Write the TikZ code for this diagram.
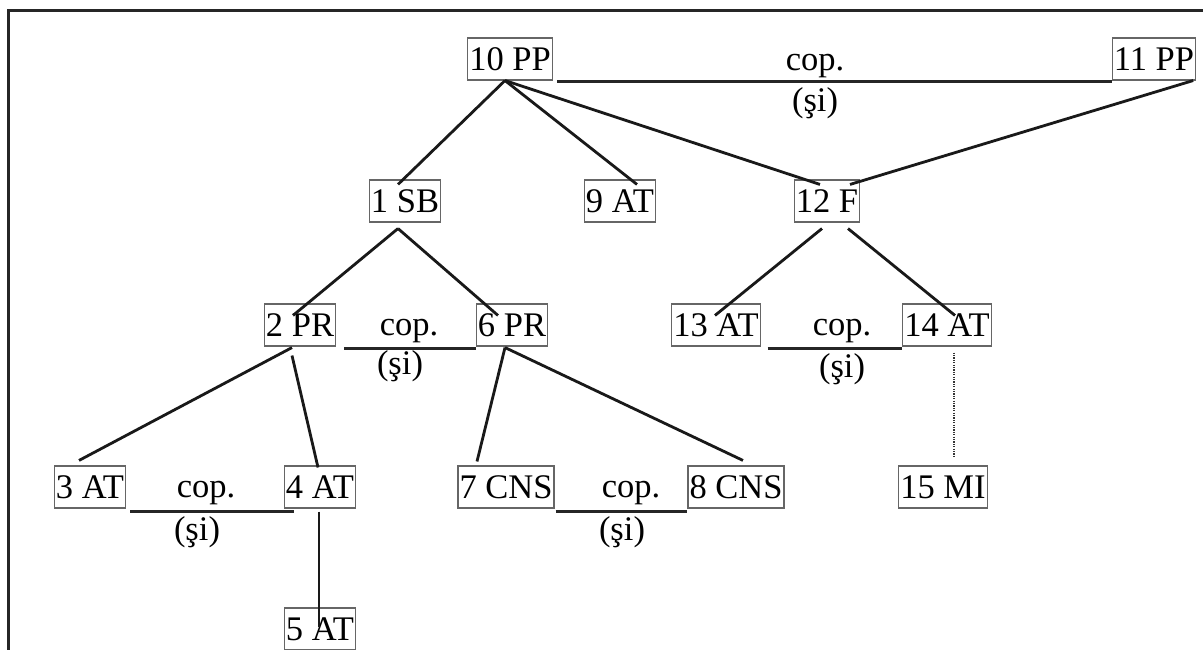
\documentclass[tikz,border=0pt]{standalone}
\usepackage{fontspec}
\setmainfont{Liberation Serif}
\usetikzlibrary{calc}
\tikzset{
  unit/.style={draw=black!60, line width=1.1pt, rectangle, inner xsep=1.5pt, inner ysep=0pt,
    text height=32.5pt, text depth=9.5pt, font=\fontsize{34.5}{40}\selectfont},
  tag/.style={anchor=base, inner sep=0pt, font=\fontsize{34.5}{40}\selectfont},
  link/.style={line width=2.8pt, black!90},
  coord/.style={line width=3pt, black!85},
  dotlink/.style={line width=2.2pt, black!80, dash pattern=on 1.2pt off 1.2pt}
}
\begin{document}
\begin{tikzpicture}[x=1pt,y=-1pt]
\useasboundingbox (0,0) rectangle (1203,650);
% frame
\draw[line width=3pt, black!85] (8,650) -- (8,10.5) -- (1203,10.5);

% units
\node[unit] (n10) at (510,59) {10 PP};
\node[unit] (n11) at (1154,59) {11 PP};
\node[unit] (n1) at (405,201) {1 SB};
\node[unit] (n9) at (620,201) {9 AT};
\node[unit] (n12) at (827,201) {12 F};
\node[unit] (n2) at (300,325) {2 PR};
\node[unit] (n6) at (512,325) {6 PR};
\node[unit] (n13) at (716,325) {13 AT};
\node[unit] (n14) at (947,325) {14 AT};
\node[unit] (n3) at (90,487) {3 AT};
\node[unit] (n4) at (320,487) {4 AT};
\node[unit] (n7) at (506,487) {7 CNS};
\node[unit] (n8) at (736,487) {8 CNS};
\node[unit] (n15) at (943,487) {15 MI};
\node[unit] (n5) at (320,629) {5 AT};

% subordination links
\draw[link] ($(n10.south)+(-5,0)$) -- ($(n1.north)+(-7,5)$);
\draw[link] ($(n10.south)+(-5,0)$) -- ($(n9.north)+(17,5)$);
\draw[link] ($(n10.south)+(-5,0)$) -- ($(n12.north)+(-7,5)$);
\draw[link] ($(n11.south east)+(-3,0)$) -- ($(n12.north)+(23,5)$);
\draw[link] ($(n1.south)+(-7,6)$) -- ($(n2.north)+(-7,12)$);
\draw[link] ($(n1.south)+(-7,6)$) -- ($(n6.north)+(-14,12)$);
\draw[link] ($(n12.south)+(-5,6)$) -- ($(n13.north)+(-1,12)$);
\draw[link] ($(n12.south)+(21,6)$) -- ($(n14.north)+(8,12)$);
\draw[link] ($(n2.south)+(-8,1)$) -- ($(n3.north)+(-11,-5)$);
\draw[link] ($(n2.south)+(-8,9)$) -- ($(n4.north)+(-2,2)$);
\draw[link] ($(n6.south)+(-7,1)$) -- ($(n7.north)+(-29,-4)$);
\draw[link] ($(n6.south)+(-7,1)$) -- ($(n8.north)+(7,-5)$);
\draw[link] ($(n4.south)+(-1,3)$) -- ($(n5.center)+(-1,-2)$);
\draw[dotlink] ($(n14.south)+(7,6)$) -- ($(n15.north)+(11,-9)$);

% coordination lines
\draw[coord] ($(n10.south east)+(4,1)$) -- ($(n11.south west)+(0,1)$);
\draw[coord] ($(n2.south east)+(8,2)$) -- ($(n6.south west)+(0,2)$);
\draw[coord] ($(n13.south east)+(7,2)$) -- ($(n14.south west)+(0,2)$);
\draw[coord] ($(n3.south east)+(4,3)$) -- ($(n4.south west)+(10,3)$);
\draw[coord] ($(n7.south east)+(1,3)$) -- ($(n8.south west)+(0,3)$);

% coordination labels
\node[tag] (c1) at (815,71) {cop.};
\node[tag] (s1) at (815,112) {(şi)};
\node[tag] (c2) at (409,335) {cop.};
\node[tag] (s2) at (400,374) {(şi)};
\node[tag] (c3) at (842,335) {cop.};
\node[tag] (s3) at (842,377) {(şi)};
\node[tag] (c4) at (206,497) {cop.};
\node[tag] (s4) at (197,540) {(şi)};
\node[tag] (c5) at (631,497) {cop.};
\node[tag] (s5) at (622,540) {(şi)};
\end{tikzpicture}
\end{document}
